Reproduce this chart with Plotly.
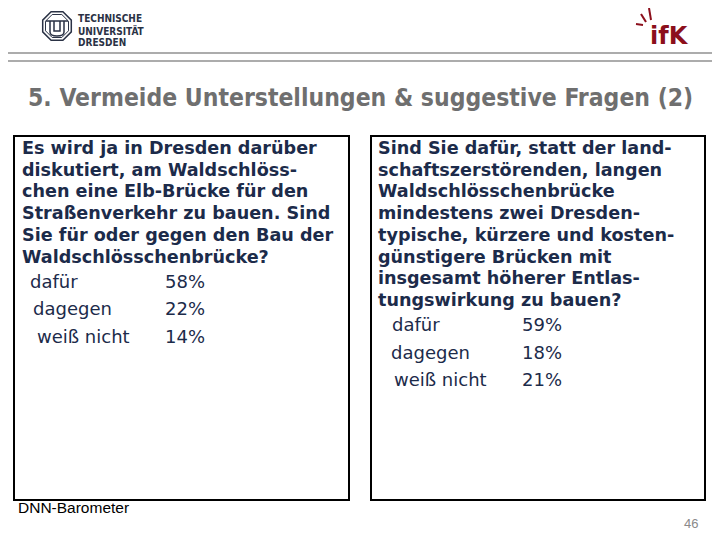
import math
import plotly.graph_objects as go

# survey data (DNN-Barometer)
answers = ["dafür", "dagegen", "weiß nicht"]
pct_q1 = [58, 22, 14]
pct_q2 = [59, 18, 21]

q1_lines = [
    "Es wird ja in Dresden darüber",
    "diskutiert, am Waldschlöss-",
    "chen eine Elb-Brücke für den",
    "Straßenverkehr zu bauen. Sind",
    "Sie für oder gegen den Bau der",
    "Waldschlösschenbrücke?",
]
q2_lines = [
    "Sind Sie dafür, statt der land-",
    "schaftszerstörenden, langen",
    "Waldschlösschenbrücke",
    "mindestens zwei Dresden-",
    "typische, kürzere und kosten-",
    "günstigere Brücken mit",
    "insgesamt höherer Entlas-",
    "tungswirkung zu bauen?",
]

title = "5. Vermeide Unterstellungen & suggestive Fragen (2)"
source = "DNN-Barometer"
page_no = "46"
uni_name = ["TECHNISCHE", "UNIVERSITÄT", "DRESDEN"]

NAVY = "#1c2b4a"
GRAY = "#6f6f6f"
RED = "#8c0f1c"

fig = go.Figure()
shapes = []
annotations = []


def txt(x, y, s, size, color, family="DejaVu Sans", xanchor="left"):
    annotations.append(dict(x=x, y=y, xref="x", yref="y", text=s, showarrow=False,
                            xanchor=xanchor, yanchor="middle",
                            font=dict(family=family, size=size, color=color)))


def question_box(x0, x1, lines, pct, text_dx, ans_x, pct_x, indents):
    shapes.append(dict(type="rect", x0=x0, x1=x1, y0=136, y1=500,
                       line=dict(color="black", width=2), fillcolor="white", layer="below"))
    y = 148
    for ln in lines:
        txt(x0 + text_dx, y, "<b>" + ln + "</b>", 17.6, NAVY)
        y += 21.7
    y += 3
    for a, p, ind in zip(answers, pct, indents):
        txt(ans_x + ind, y, a, 18, NAVY)
        txt(pct_x, y, f"{p}%", 18, NAVY)
        y += 27.5


# header lines
for hy in (53, 61):
    shapes.append(dict(type="line", x0=0, x1=730, y0=hy, y1=hy,
                       line=dict(color="#909090", width=1.3)))

# TU Dresden logo
cx, cy = 57, 26


def octagon(r):
    pts = []
    for k in range(8):
        a = math.pi / 8 + k * math.pi / 4
        pts.append((cx + r * math.cos(a), cy + r * math.sin(a)))
    return "M " + " L ".join(f"{px:.1f},{py:.1f}" for px, py in pts) + " Z"


shapes.append(dict(type="path", path=octagon(15.5), line=dict(color="#2a3245", width=1.5)))
shapes.append(dict(type="path", path=octagon(12.5), line=dict(color="#2a3245", width=1)))
shapes.append(dict(type="path",
                   path=f"M {cx-11},{cy-5} L {cx+11},{cy-5} M {cx-7},{cy-5} L {cx-7},{cy+6} "
                        f"Q {cx-7},{cy+10} {cx},{cy+10} Q {cx+7},{cy+10} {cx+7},{cy+6} L {cx+7},{cy-5} "
                        f"M {cx-3},{cy-5} L {cx-3},{cy+5} L {cx+3},{cy+5} L {cx+3},{cy-5}",
                   line=dict(color="#2a3245", width=1.5)))
for i, w in enumerate(uni_name):
    txt(76, 18 + i * 12, "<b>" + w + "</b>", 10, "#2a3245", family="DejaVu Sans Condensed")

# ifK logo
txt(669, 36, "<b>ifK</b>", 24, RED, xanchor="center")
for x0, y0, x1, y1 in [(649, 8, 651, 20), (641, 14, 646, 22), (636, 24, 643, 25)]:
    shapes.append(dict(type="line", x0=x0, y0=y0, x1=x1, y1=y1, line=dict(color=RED, width=2)))

# title
txt(26, 97, "<b>" + title + "</b>", 24.5, GRAY, family="DejaVu Sans Condensed")

question_box(14, 349, q1_lines, pct_q1, 6, 28, 163, [0, 3, 7])
question_box(371, 705, q2_lines, pct_q2, 5, 390, 520, [0, -1, 2])

# footer
txt(16, 507, source, 15.5, "black", family="Liberation Sans")
txt(700, 523, page_no, 13, "#8a8a8a", family="Liberation Sans", xanchor="right")

# the page is drawn with the browser's 8px body margin, so ranges start at 8
fig.update_layout(
    width=720, height=540,
    margin=dict(l=0, r=0, t=0, b=0),
    paper_bgcolor="white", plot_bgcolor="white",
    xaxis=dict(range=[8, 728], visible=False, fixedrange=True),
    yaxis=dict(range=[548, 8], visible=False, fixedrange=True),
    shapes=shapes, annotations=annotations, showlegend=False,
)
fig.write_html("out.html")
